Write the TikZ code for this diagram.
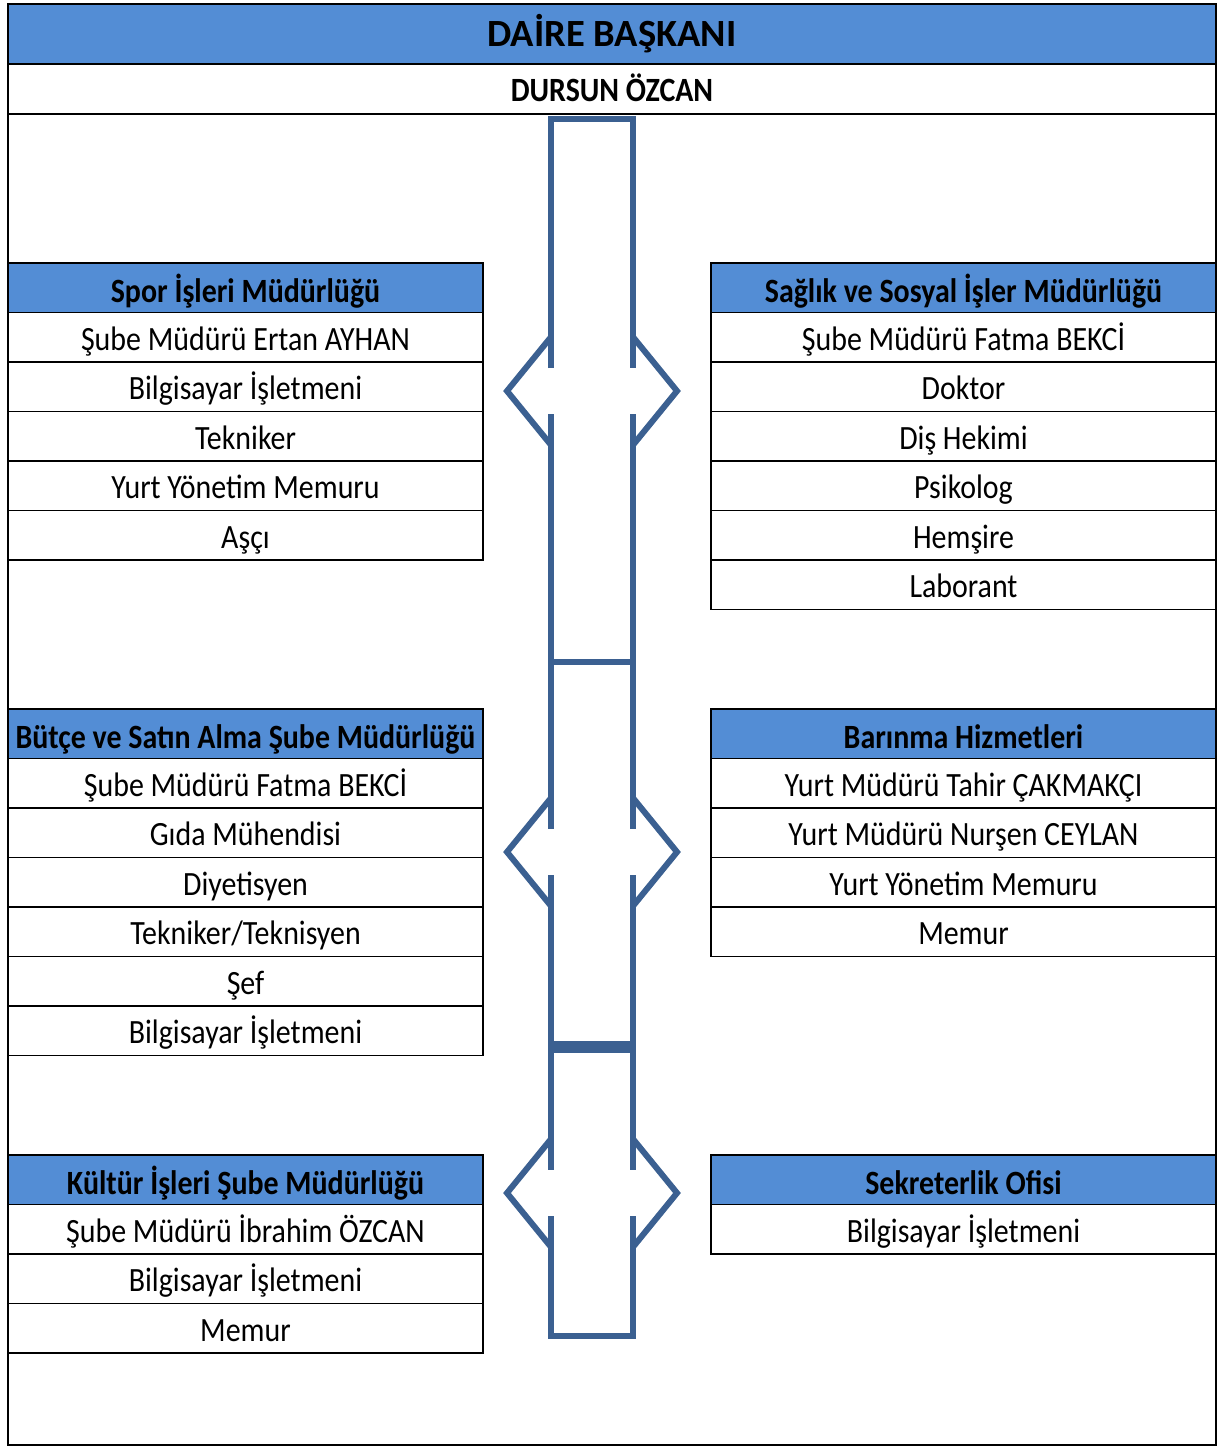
\documentclass[tikz,border=0pt]{standalone}
\usepackage{fontspec}
\setmainfont{Carlito}
\newfontfamily\cellfont{Carlito}[FakeStretch=0.88]
\usetikzlibrary{positioning}
\definecolor{headblue}{RGB}{83,141,213}
\definecolor{linkblue}{RGB}{59,96,145}

\begin{document}
\begin{tikzpicture}[x=1pt, y=1pt,
      cell/.style={draw, line width=1.5pt, inner sep=0pt, outer sep=0pt,
         minimum height=49.5pt, text height=31pt, text depth=5pt,
         font=\cellfont\fontsize{34}{36}\selectfont},
      head/.style={cell, fill=headblue, text height=34pt, text depth=4pt,
         font=\cellfont\bfseries\fontsize{34}{36}\selectfont},
      leftcol/.style={minimum width=475pt},
      rightcol/.style={minimum width=505pt},
      link/.style={draw=linkblue, line width=6pt}]
   \useasboundingbox (0,0) rectangle (1221,-1447);
   \draw[line width=1.5pt] (8,-4) rectangle (1216,-1445);

   % top of the chart
   \node[head, anchor=north west, minimum width=1208pt, minimum height=60pt,
      text height=31pt, text depth=5pt,
      font=\bfseries\fontsize{38.5}{40}\selectfont] (baskan) at (8,-4) {DAİRE BAŞKANI};
   \node[cell, below=0pt of baskan, minimum width=1208pt, minimum height=50pt,
      text height=31pt, text depth=5pt,
      font=\cellfont\bfseries\fontsize{34}{36}\selectfont] (isim) {DURSUN ÖZCAN};

   % left column
   \node[head, leftcol, anchor=north west] (spor-0) at (8,-263) {Spor İşleri Müdürlüğü};
   \foreach \t [count=\i, remember=\i as \j (initially 0)] in
      {Şube Müdürü Ertan AYHAN, Bilgisayar İşletmeni, Tekniker, Yurt Yönetim Memuru, Aşçı}
      \node[cell, leftcol, below=0pt of spor-\j] (spor-\i) {\t};

   \node[head, leftcol, anchor=north west] (butce-0) at (8,-709) {Bütçe ve Satın Alma Şube Müdürlüğü};
   \foreach \t [count=\i, remember=\i as \j (initially 0)] in
      {Şube Müdürü Fatma BEKCİ, Gıda Mühendisi, Diyetisyen, Tekniker/Teknisyen, Şef, Bilgisayar İşletmeni}
      \node[cell, leftcol, below=0pt of butce-\j] (butce-\i) {\t};

   \node[head, leftcol, anchor=north west] (kultur-0) at (8,-1155) {Kültür İşleri Şube Müdürlüğü};
   \foreach \t [count=\i, remember=\i as \j (initially 0)] in
      {Şube Müdürü İbrahim ÖZCAN, Bilgisayar İşletmeni, Memur}
      \node[cell, leftcol, below=0pt of kultur-\j] (kultur-\i) {\t};

   % right column
   \node[head, rightcol, anchor=north west] (saglik-0) at (711,-263) {Sağlık ve Sosyal İşler Müdürlüğü};
   \foreach \t [count=\i, remember=\i as \j (initially 0)] in
      {Şube Müdürü Fatma BEKCİ, Doktor, Diş Hekimi, Psikolog, Hemşire, Laborant}
      \node[cell, rightcol, below=0pt of saglik-\j] (saglik-\i) {\t};

   \node[head, rightcol, anchor=north west] (barinma-0) at (711,-709) {Barınma Hizmetleri};
   \foreach \t [count=\i, remember=\i as \j (initially 0)] in
      {Yurt Müdürü Tahir ÇAKMAKÇI, Yurt Müdürü Nurşen CEYLAN, Yurt Yönetim Memuru, Memur}
      \node[cell, rightcol, below=0pt of barinma-\j] (barinma-\i) {\t};

   \node[head, rightcol, anchor=north west] (sekreter-0) at (711,-1155) {Sekreterlik Ofisi};
   \node[cell, rightcol, below=0pt of sekreter-0] (sekreter-1) {Bilgisayar İşletmeni};

   % central link with the double arrows
   \draw[link] (551,-368) -- (551,-119) -- (633,-119) -- (633,-368);
   \draw[link] (551,-1216) -- (551,-1336) -- (633,-1336) -- (633,-1216);
   \foreach \a/\b in {414/829, 875/1170} {
      \draw[link] (551,-\a) -- (551,-\b);
      \draw[link] (633,-\a) -- (633,-\b);
   }
   \draw[link] (551,-662) -- (633,-662);
   \draw[link, line width=12pt] (551,-1047) -- (633,-1047);
   \foreach \y in {391, 852, 1193} {
      \draw[link] (551,-\y+54) -- (507,-\y) -- (551,-\y-54);
      \draw[link] (633,-\y+54) -- (677,-\y) -- (633,-\y-54);
   }
\end{tikzpicture}
\end{document}
